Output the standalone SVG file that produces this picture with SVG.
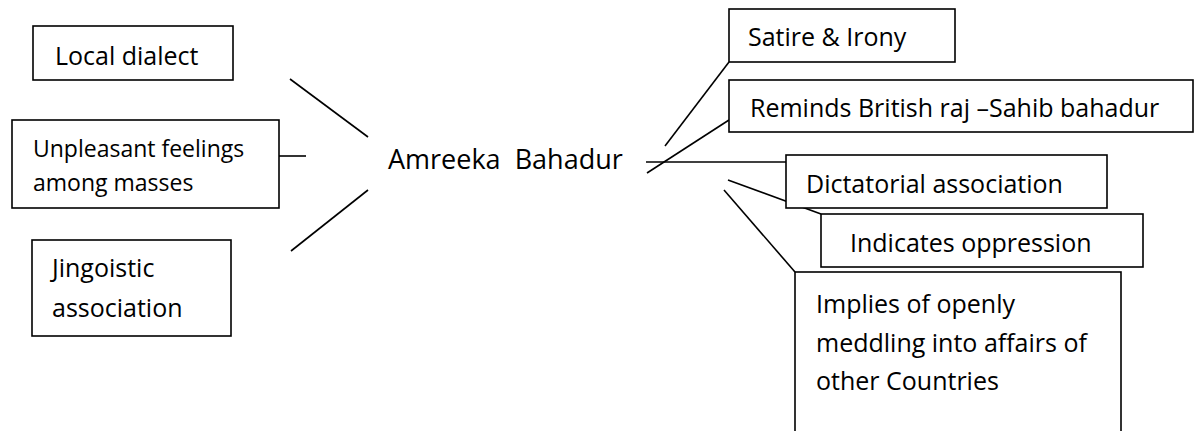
<svg xmlns="http://www.w3.org/2000/svg" width="1195" height="431" viewBox="0 0 1195 431">
<style>
.box{fill:#fff;stroke:#000;stroke-width:1.6}
.ln{stroke:#000;stroke-width:1.6;fill:none}
.t{font-family:"Open Sans","Noto Sans","Liberation Sans",sans-serif;font-size:25px;fill:#000}
.s{font-size:23px}
.c{font-size:27px}
</style>
<rect width="1195" height="431" fill="#fff"/>
<g id="connectors">
<line class="ln" x1="290" y1="79" x2="368" y2="137"/>
<line class="ln" x1="279" y1="156" x2="306" y2="156"/>
<line class="ln" x1="368" y1="190" x2="291" y2="251"/>
<line class="ln" x1="665" y1="146" x2="729" y2="62"/>
<line class="ln" x1="647" y1="173" x2="729" y2="120"/>
<line class="ln" x1="646" y1="162" x2="786" y2="162"/>
<line class="ln" x1="728" y1="180" x2="821" y2="214"/>
<line class="ln" x1="724" y1="190" x2="795" y2="272"/>
</g>
<g id="local-dialect">
<rect class="box" x="33" y="26" width="200" height="54"/>
<text class="t" x="55" y="65">Local dialect</text>
</g>
<g id="unpleasant-feelings">
<rect class="box" x="12" y="120" width="267" height="88"/>
<text class="t s" x="33" y="157">Unpleasant feelings</text>
<text class="t s" x="33" y="191">among masses</text>
</g>
<g id="jingoistic">
<rect class="box" x="32" y="240" width="199" height="96"/>
<text class="t" x="52" y="277">Jingoistic</text>
<text class="t" x="52" y="317">association</text>
</g>
<g id="amreeka-bahadur">
<text class="t c" x="388" y="169" xml:space="preserve">Amreeka  Bahadur</text>
</g>
<g id="satire">
<rect class="box" x="729" y="9" width="226" height="53"/>
<text class="t" x="748" y="46">Satire &amp; Irony</text>
</g>
<g id="reminds">
<rect class="box" x="729" y="80" width="464" height="52"/>
<text class="t" x="750" y="117">Reminds British raj –Sahib bahadur</text>
</g>
<g id="dictatorial">
<rect class="box" x="786" y="155" width="321" height="53"/>
<text class="t" x="806" y="193">Dictatorial association</text>
</g>
<g id="indicates">
<rect class="box" x="821" y="214" width="322" height="53"/>
<text class="t" x="850" y="252">Indicates oppression</text>
</g>
<g id="implies">
<rect class="box" x="795" y="272" width="326" height="170"/>
<text class="t" x="816" y="313">Implies of openly</text>
<text class="t" x="816" y="352">meddling into affairs of</text>
<text class="t" x="816" y="390">other Countries</text>
</g>
</svg>
